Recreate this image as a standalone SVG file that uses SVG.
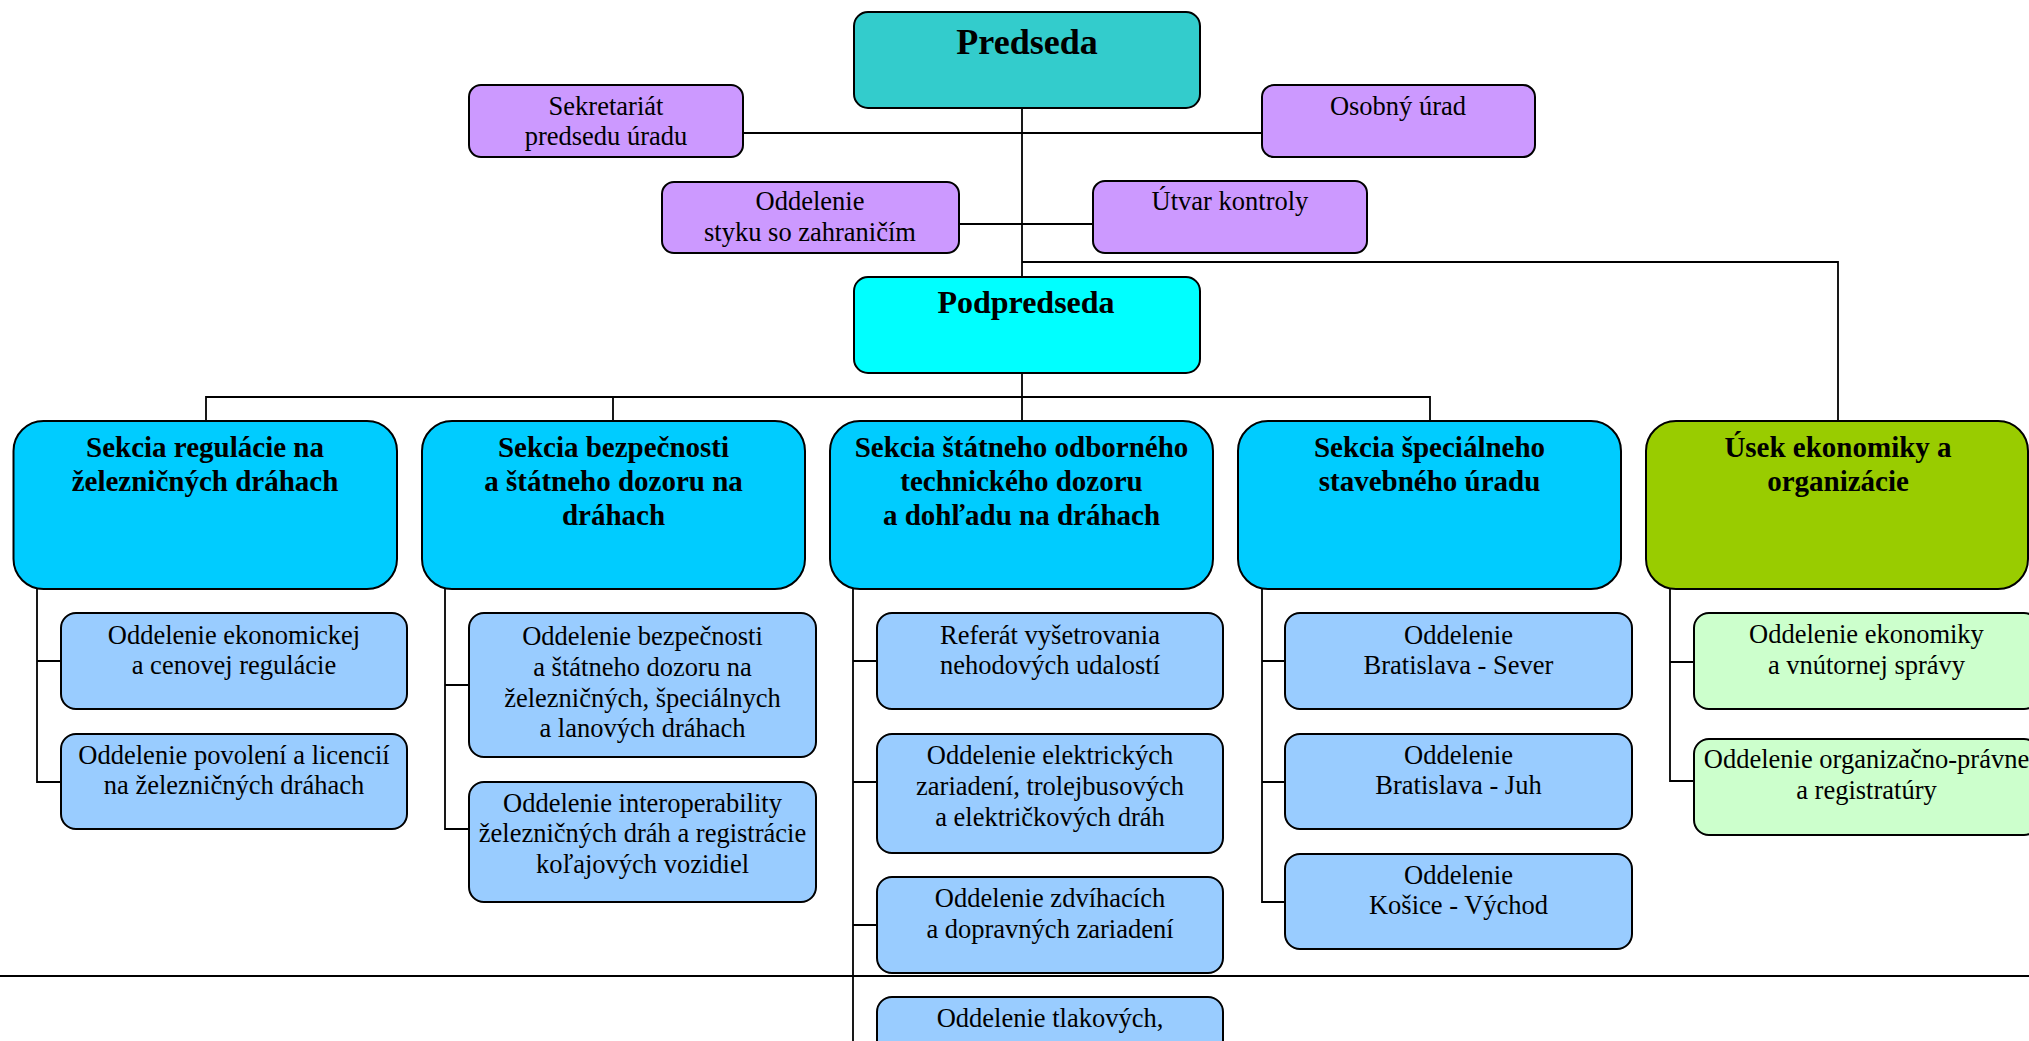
<svg xmlns="http://www.w3.org/2000/svg" width="2029" height="1041" viewBox="0 0 2029 1041">
<style>
text{font-family:"Liberation Serif","Times New Roman",serif;fill:#000;text-anchor:middle}
.t{font-size:26.5px}
.b{font-size:29px;font-weight:bold}
.box{stroke:#000;stroke-width:2}
.purple{fill:#CC99FF}
.sec{fill:#00CCFF}
.sub{fill:#99CCFF}
.gsec{fill:#99CC00}
.gsub{fill:#CCFFCC}
#connectors path{fill:none;stroke:#000;stroke-width:1.8}
</style>
<rect width="2029" height="1041" fill="#fff"/>
<g id="connectors">
<path d="M1022 108V277M743 133H1262M959 224H1093M1022 262H1838V421"/>
<path d="M1022 373V421M206 421V397H1430V421M613 397V421"/>
<path d="M37 589V782H61M37 661H61"/>
<path d="M445 589V829H469M445 685H469"/>
<path d="M853 589V1041M853 661H877M853 782H877M853 925H877"/>
<path d="M1262 589V902H1285M1262 661H1285M1262 782H1285"/>
<path d="M1670 589V781H1694M1670 662H1694"/>
<path d="M0 976H2029"/>
</g>
<g id="predseda"><rect class="box" x="854" y="12" width="346" height="96" rx="14" fill="#33CCCC"/><text x="1027" y="54" style="font-size:36px;font-weight:bold">Predseda</text></g>
<g id="sekretariat"><rect class="box purple" x="469" y="85" width="274" height="72" rx="12"/><text class="t" x="606" y="115">Sekretariát</text><text class="t" x="606" y="145">predsedu úradu</text></g>
<g id="osobny"><rect class="box purple" x="1262" y="85" width="273" height="72" rx="12"/><text class="t" x="1398" y="115">Osobný úrad</text></g>
<g id="styk"><rect class="box purple" x="662" y="182" width="297" height="71" rx="12"/><text class="t" x="810" y="210">Oddelenie</text><text class="t" x="810" y="241">styku so zahraničím</text></g>
<g id="kontrola"><rect class="box purple" x="1093" y="181" width="274" height="72" rx="12"/><text class="t" x="1230" y="210">Útvar kontroly</text></g>
<g id="podpredseda"><rect class="box" x="854" y="277" width="346" height="96" rx="14" fill="#00FFFF"/><text x="1026" y="313" style="font-size:32px;font-weight:bold">Podpredseda</text></g>

<g id="sekcia1"><rect class="box sec" x="13.5" y="421" width="383.5" height="168" rx="30"/><text class="b" x="205" y="457">Sekcia regulácie na</text><text class="b" x="205" y="491">železničných dráhach</text></g>
<g id="sekcia2"><rect class="box sec" x="422" y="421" width="383" height="168" rx="30"/><text class="b" x="613.5" y="457">Sekcia bezpečnosti</text><text class="b" x="613.5" y="491">a štátneho dozoru na</text><text class="b" x="613.5" y="525">dráhach</text></g>
<g id="sekcia3"><rect class="box sec" x="830" y="421" width="383" height="168" rx="30"/><text class="b" x="1021.5" y="457">Sekcia štátneho odborného</text><text class="b" x="1021.5" y="491">technického dozoru</text><text class="b" x="1021.5" y="525">a dohľadu na dráhach</text></g>
<g id="sekcia4"><rect class="box sec" x="1238" y="421" width="383" height="168" rx="30"/><text class="b" x="1429.5" y="457">Sekcia špeciálneho</text><text class="b" x="1429.5" y="491">stavebného úradu</text></g>
<g id="usek"><rect class="box gsec" x="1646" y="421" width="382" height="168" rx="30"/><text class="b" x="1838" y="457">Úsek ekonomiky a</text><text class="b" x="1838" y="491">organizácie</text></g>

<g id="s1a"><rect class="box sub" x="61" y="613" width="346" height="96" rx="15"/><text class="t" x="234" y="644">Oddelenie ekonomickej</text><text class="t" x="234" y="674">a cenovej regulácie</text></g>
<g id="s1b"><rect class="box sub" x="61" y="734" width="346" height="95" rx="15"/><text class="t" x="234" y="764">Oddelenie povolení a licencií</text><text class="t" x="234" y="794">na železničných dráhach</text></g>

<g id="s2a"><rect class="box sub" x="469" y="613" width="347" height="144" rx="15"/><text class="t" x="642.5" y="645">Oddelenie bezpečnosti</text><text class="t" x="642.5" y="676">a štátneho dozoru na</text><text class="t" x="642.5" y="707">železničných, špeciálnych</text><text class="t" x="642.5" y="737">a lanových dráhach</text></g>
<g id="s2b"><rect class="box sub" x="469" y="782" width="347" height="120" rx="15"/><text class="t" x="642.5" y="812">Oddelenie interoperability</text><text class="t" x="642.5" y="842">železničných dráh a registrácie</text><text class="t" x="642.5" y="873">koľajových vozidiel</text></g>

<g id="s3a"><rect class="box sub" x="877" y="613" width="346" height="96" rx="15"/><text class="t" x="1050" y="644">Referát vyšetrovania</text><text class="t" x="1050" y="674">nehodových udalostí</text></g>
<g id="s3b"><rect class="box sub" x="877" y="734" width="346" height="119" rx="15"/><text class="t" x="1050" y="764">Oddelenie elektrických</text><text class="t" x="1050" y="795">zariadení, trolejbusových</text><text class="t" x="1050" y="826">a električkových dráh</text></g>
<g id="s3c"><rect class="box sub" x="877" y="877" width="346" height="96" rx="15"/><text class="t" x="1050" y="907">Oddelenie zdvíhacích</text><text class="t" x="1050" y="938">a dopravných zariadení</text></g>
<g id="s3d"><rect class="box sub" x="877" y="997" width="346" height="96" rx="15"/><text class="t" x="1050" y="1027">Oddelenie tlakových,</text></g>

<g id="s4a"><rect class="box sub" x="1285" y="613" width="347" height="96" rx="15"/><text class="t" x="1458.5" y="644">Oddelenie</text><text class="t" x="1458.5" y="674">Bratislava - Sever</text></g>
<g id="s4b"><rect class="box sub" x="1285" y="734" width="347" height="95" rx="15"/><text class="t" x="1458.5" y="764">Oddelenie</text><text class="t" x="1458.5" y="794">Bratislava - Juh</text></g>
<g id="s4c"><rect class="box sub" x="1285" y="854" width="347" height="95" rx="15"/><text class="t" x="1458.5" y="884">Oddelenie</text><text class="t" x="1458.5" y="914">Košice - Východ</text></g>

<g id="s5a"><rect class="box gsub" x="1694" y="613" width="345" height="96" rx="15"/><text class="t" x="1866.5" y="643">Oddelenie ekonomiky</text><text class="t" x="1866.5" y="674">a vnútornej správy</text></g>
<g id="s5b"><rect class="box gsub" x="1694" y="739" width="345" height="96" rx="15"/><text class="t" x="1866.5" y="768">Oddelenie organizačno-právne</text><text class="t" x="1866.5" y="799">a registratúry</text></g>
</svg>
